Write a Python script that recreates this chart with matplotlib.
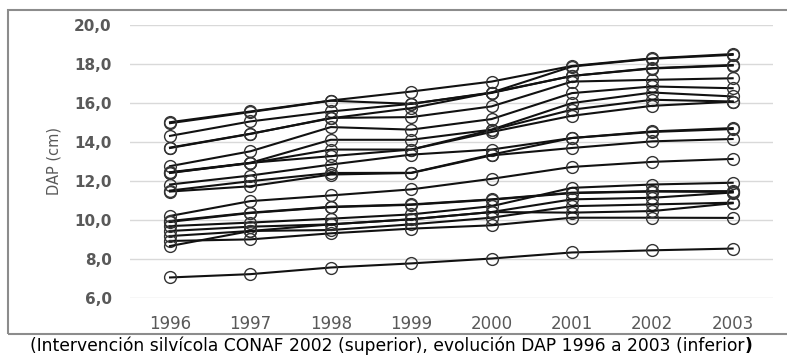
import numpy as np
import matplotlib
matplotlib.use("Agg")
import matplotlib.pyplot as plt
from matplotlib.patches import Rectangle

plt.rcParams['font.family'] = ['DejaVu Sans']

years = [1996, 1997, 1998, 1999, 2000, 2001, 2002, 2003]
year_labels = ['1996', '1997', '1998', '1999', '2000', '2001', '2002', '2003']

# DAP (cm) per tree
dap_upper = [
    [15.0, 15.55, 16.11, 16.57, 17.08, 17.88, 18.27, 18.49],
    [14.95, 15.52, 16.10, 15.94, 16.52, 17.85, 18.25, 18.45],
    [14.3, 15.04, 15.55, 15.94, 16.50, 17.37, 17.77, 17.93],
    [13.7, 14.41, 15.20, 15.72, 16.52, 17.37, 17.75, 17.90],
    [13.68, 14.40, 15.22, 15.26, 15.81, 17.08, 17.17, 17.25],
    [12.75, 13.51, 14.75, 14.62, 15.16, 16.49, 16.83, 16.74],
    [12.44, 12.92, 14.10, 14.10, 14.62, 15.98, 16.52, 16.32],
    [12.42, 12.90, 13.60, 13.60, 14.60, 15.64, 16.15, 16.06],
    [12.40, 12.92, 13.26, 13.60, 14.50, 15.33, 15.84, 16.05],
]
dap_middle = [
    [11.81, 12.27, 12.83, 13.34, 13.60, 14.19, 14.53, 14.70],
    [11.50, 11.98, 12.40, 12.41, 13.34, 14.19, 14.50, 14.65],
    [11.45, 11.72, 12.32, 12.40, 13.30, 13.68, 14.02, 14.14],
    [10.20, 10.96, 11.25, 11.56, 12.10, 12.71, 12.97, 13.12],
]
dap_lower = [
    [9.94, 10.37, 10.67, 10.79, 11.05, 11.39, 11.47, 11.47],
    [9.90, 10.35, 10.65, 10.77, 11.03, 11.37, 11.45, 11.43],
    [9.68, 9.86, 10.06, 10.28, 10.70, 11.64, 11.81, 11.90],
    [9.43, 9.65, 9.77, 10.03, 10.40, 11.05, 11.13, 11.40],
    [9.17, 9.43, 9.48, 9.77, 10.11, 10.70, 10.79, 10.88],
    [8.92, 9.00, 9.31, 9.55, 9.72, 10.11, 10.11, 10.10],
    [8.66, 9.43, 9.77, 10.03, 10.40, 10.37, 10.45, 10.85],
    [7.05, 7.22, 7.56, 7.77, 8.02, 8.33, 8.44, 8.53],
]

yticks = [6, 8, 10, 12, 14, 16, 18, 20]
ytick_labels = ['6,0', '8,0', '10,0', '12,0', '14,0', '16,0', '18,0', '20,0']
caption = '(Intervención silvícola CONAF 2002 (superior), evolución DAP 1996 a 2003 (inferior'

fig = plt.figure(figsize=(7.87, 3.56), dpi=100)
ax = fig.add_axes([0.165, 0.163, 0.817, 0.768])

for serie in dap_upper + dap_middle + dap_lower:
    ax.plot(years, serie, color='#111111', lw=1.5, marker='o', ms=8.5,
            mfc='none', mec='#333333', mew=1.0)

ax.set_xlim(1995.5, 2003.5)
ax.set_ylim(6, 20)
ax.set_yticks(yticks)
ax.set_yticklabels(ytick_labels, fontsize=11, fontweight='bold', color='#595959')
ax.set_xticks(years)
ax.set_xticklabels(year_labels, fontsize=12, color='#595959')
ax.tick_params(axis='x', length=0, pad=12)
ax.tick_params(axis='y', length=0, pad=13)
ax.grid(axis='y', color='#d9d9d9', lw=1)
ax.set_axisbelow(True)
for s in ax.spines.values():
    s.set_visible(False)
ax.set_ylabel('DAP (cm)', fontsize=10.5, color='#595959', labelpad=9)

# outer frame around the chart
fig.add_artist(Rectangle((8/787, 1 - 334/356), 1.0, (334 - 10)/356,
                         transform=fig.transFigure, fill=False,
                         ec='#8c8c8c', lw=1.5))

t = fig.text(30/787, 1 - 346/356, caption, fontsize=12.3, color='black',
             ha='left', va='center')
ax.annotate(')', xy=(1, 0), xycoords=t, va='bottom', ha='left',
            fontsize=12.3, fontweight='bold', annotation_clip=False)

fig.savefig('out.png', dpi=100)
